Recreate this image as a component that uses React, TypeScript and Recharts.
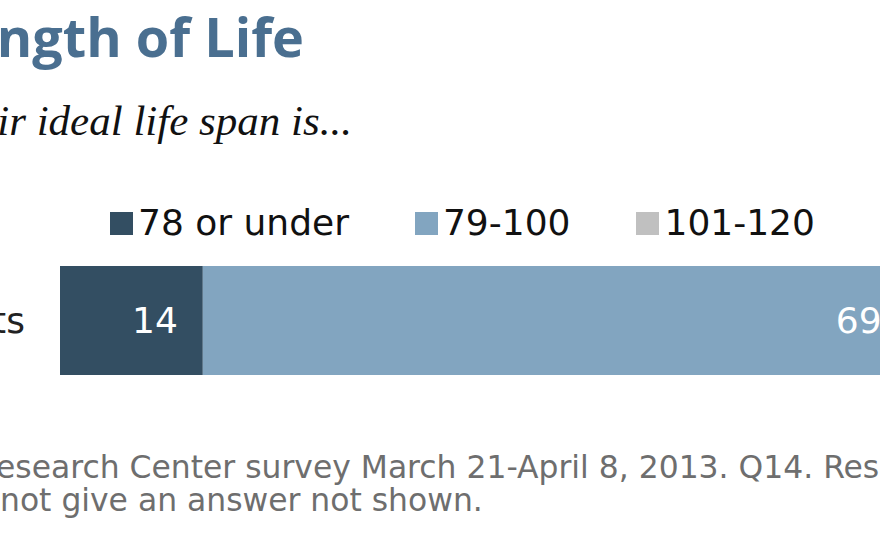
import { Bar, BarChart, LabelList, Legend, XAxis, YAxis } from "recharts";

const categories = ["All adults"];
const seriesNames = ["78 or under", "79-100", "101-120"];
const under78 = [14];
const from79to100 = [69];
const from101to120 = [9];
const colors = ["#334e62", "#82a5c0", "#c0c0c0"];

const chartData = categories.map((category, i) => ({
  category,
  under78: under78[i],
  mid: from79to100[i],
  upper: from101to120[i],
}));

const seriesKeys = ["under78", "mid", "upper"];

const FONT = "'DejaVu Sans', Verdana, sans-serif";

function LegendRow() {
  return (
    <div style={{ display: "flex", whiteSpace: "nowrap", fontFamily: FONT, fontSize: 36, lineHeight: "36px", color: "#111" }}>
      {seriesNames.map((name, i) => (
        <span key={name} style={{ marginRight: 66 }}>
          <span
            style={{
              display: "inline-block",
              width: 23,
              height: 23,
              background: colors[i],
              marginRight: 5,
              verticalAlign: "baseline",
            }}
          />
          {name}
        </span>
      ))}
    </div>
  );
}

export default function App() {
  return (
    <div
      style={{
        position: "absolute",
        left: 0,
        top: 0,
        width: 880,
        height: 542,
        overflow: "hidden",
        background: "#fff",
      }}
    >
      <svg width={880} height={542} style={{ position: "absolute", left: 0, top: 0 }}>
        <text
          x={304}
          y={57}
          textAnchor="end"
          fontFamily="'Open Sans', sans-serif"
          fontWeight={700}
          fontSize={54}
          fill="#4a6f90"
        >
          Length of Life
        </text>
        <text
          x={352}
          y={135}
          textAnchor="end"
          fontFamily="'Liberation Serif', serif"
          fontStyle="italic"
          fontSize={43}
          fill="#111"
        >
          Americans say their ideal life span is...
        </text>
        <g fontFamily={FONT} fontSize={31.4} fill="#6e6e6e">
          <text x={-4} y={478} textAnchor="end">Source: Pew R</text>
          <text x={-4} y={478}>esearch Center survey March 21-April 8, 2013. Q14. Respondents who did</text>
          <text x={0} y={511} textAnchor="end">Those who did </text>
          <text x={0} y={511}>not give an answer not shown.</text>
        </g>
      </svg>
      <div style={{ position: "absolute", left: -140, top: 0 }}>
        <BarChart
          width={1240}
          height={542}
          data={chartData}
          layout="vertical"
          barCategoryGap={0}
          margin={{ top: 266, right: 20, bottom: 167, left: 0 }}
        >
          <XAxis type="number" domain={[0, 100]} hide />
          <YAxis
            type="category"
            dataKey="category"
            width={200}
            axisLine={false}
            tickLine={false}
            tickSize={0}
            tickMargin={35}
            tick={{ fill: "#222", fontSize: 36, fontFamily: FONT }}
          />
          <Legend
            verticalAlign="middle"
            content={() => <LegendRow />}
            wrapperStyle={{ position: "absolute", left: 250, top: 205, width: "auto" }}
          />
          {seriesKeys.map((key, i) => (
            <Bar
              key={key}
              dataKey={key}
              name={seriesNames[i]}
              stackId="span"
              fill={colors[i]}
              isAnimationActive={false}
            >
              <LabelList
                dataKey={key}
                position="insideRight"
                offset={25}
                fill="#fff"
                fontSize={36}
                fontFamily={FONT}
              />
            </Bar>
          ))}
        </BarChart>
      </div>
    </div>
  );
}
